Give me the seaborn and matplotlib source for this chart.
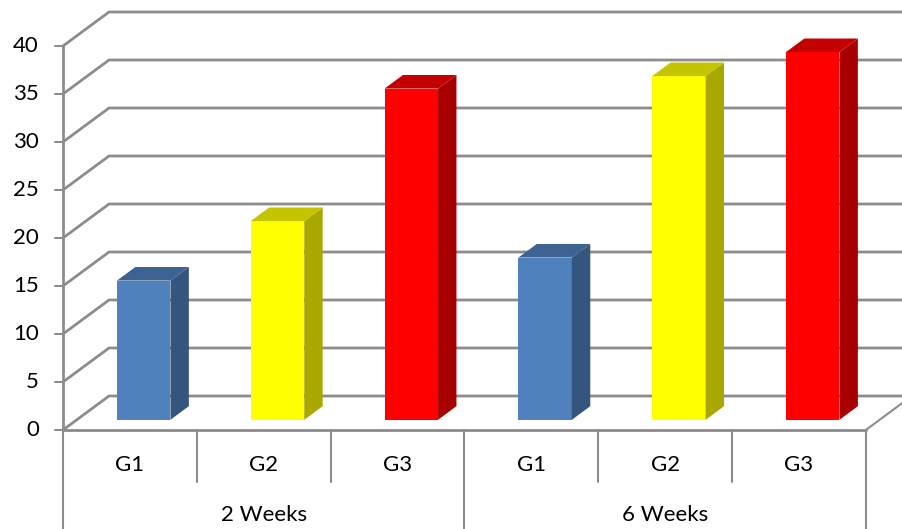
import matplotlib
matplotlib.use("Agg")
import matplotlib.pyplot as plt
import seaborn as sns
import pandas as pd
import numpy as np
from matplotlib.patches import Polygon
from matplotlib.colors import to_rgb

# ---- data ----
periods = ["2 Weeks", "6 Weeks"]
groups = ["G1", "G2", "G3"]
values_2w = [14.5, 20.7, 34.5]
values_6w = [16.9, 35.8, 38.3]
yticks = [0, 5, 10, 15, 20, 25, 30, 35, 40]
colors = {"G1": "#4F81BD", "G2": "#FFFF00", "G3": "#FF0000"}

rows = []
for p, vals in zip(periods, [values_2w, values_6w]):
    for g, v in zip(groups, vals):
        rows.append({"cat": f"{p} {g}", "period": p, "group": g, "value": v})
df = pd.DataFrame(rows)
order = list(df["cat"])

sns.set_theme(style="white")
plt.rcParams["font.family"] = ["Lato", "DejaVu Sans"]

W, H = 902, 529
fig = plt.figure(figsize=(W / 100, H / 100), dpi=100)
ax = fig.add_axes([0, 0, 1, 1])

sns.barplot(data=df, x="cat", y="value", hue="group", order=order,
            hue_order=groups, palette=colors, dodge=False, width=0.4,
            legend=False, ax=ax, linewidth=0, saturation=1, zorder=3)

# pixel geometry mapping (category unit = 133.8 px, value unit = 9.6 px)
cat_px = 133.8
val_px = 9.6
x0_px, y0_px = 63, 430
ax.set_xlim((0 - x0_px) / cat_px - 0.5, (W - x0_px) / cat_px - 0.5)
ax.set_ylim((y0_px - H) / val_px, y0_px / val_px)
ax.axis("off")

DX = 46 / cat_px      # depth offset in category units
DY = 34 / val_px      # depth offset in value units
f0, fd = 0.3, 0.4     # front depth fraction, bar depth fraction
grid_c = "#8C8C8C"
n = len(order)
xl, xr = -0.5, n - 0.5
FS = 16

# gridlines: left wall + back wall
for v in yticks:
    ax.plot([xl, xl + DX, xr + DX + 1], [v, v + DY, v + DY], color=grid_c,
            lw=2.0, zorder=1, solid_capstyle="butt")
# floor edges
ax.plot([xr, xr + DX], [0, DY], color=grid_c, lw=1.5, zorder=1)
ax.plot([xl, xr], [0, 0], color=grid_c, lw=2.0, zorder=2)
# vertical value axis
ax.plot([xl, xl], [0, yticks[-1]], color=grid_c, lw=2.0, zorder=2)
for v in yticks:
    ax.plot([xl - 8 / cat_px, xl], [v, v], color=grid_c, lw=1.5, zorder=2)
    ax.text(xl - 24 / cat_px, v, str(v), ha="right", va="center",
            fontsize=FS, color="black")

# 3D bars
for patch in list(ax.patches):
    x = patch.get_x() + f0 * DX
    w = patch.get_width()
    h = patch.get_height()
    y = f0 * DY
    patch.set_x(x)
    patch.set_y(y)
    rgb = np.array(to_rgb(patch.get_facecolor()))
    side = Polygon([(x + w, y), (x + w + fd * DX, y + fd * DY),
                    (x + w + fd * DX, y + h + fd * DY), (x + w, y + h)],
                   closed=True, facecolor=rgb * 0.66, edgecolor="none", zorder=3)
    top = Polygon([(x, y + h), (x + w, y + h),
                   (x + w + fd * DX, y + h + fd * DY), (x + fd * DX, y + h + fd * DY)],
                  closed=True, facecolor=rgb * 0.77, edgecolor="none", zorder=3)
    ax.add_patch(side)
    ax.add_patch(top)

# category table below
ybot = (y0_px - H) / val_px
y_inner = (y0_px - 482) / val_px
for k in range(n + 1):
    if k % len(groups) == 0:
        ax.plot([xl + k, xl + k], [0, ybot], color=grid_c, lw=1.5, zorder=2)
    else:
        ax.plot([xl + k, xl + k], [0, y_inner], color=grid_c, lw=1.5, zorder=2)
for i, row in df.iterrows():
    ax.text(i, (y0_px - 465) / val_px, row["group"], ha="center", va="center",
            fontsize=FS, color="black")
for j, p in enumerate(periods):
    ax.text(j * len(groups) + (len(groups) - 1) / 2, (y0_px - 515) / val_px, p,
            ha="center", va="center", fontsize=FS, color="black")

fig.savefig("out.png", dpi=100)
